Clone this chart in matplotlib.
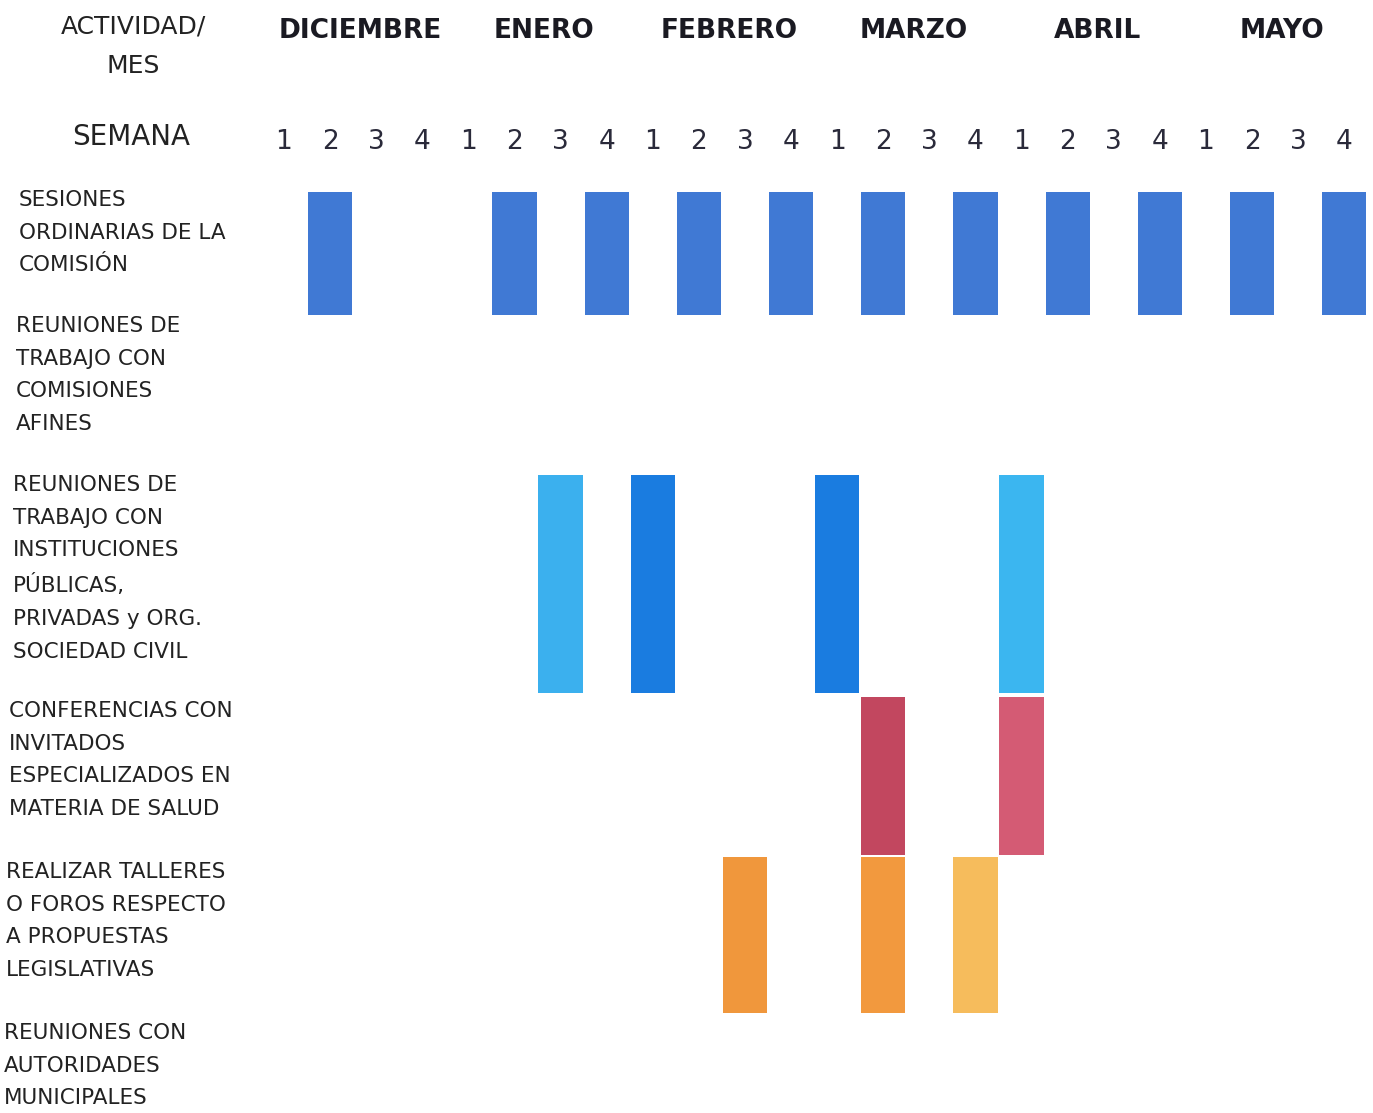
import matplotlib.pyplot as plt
from matplotlib.patches import Rectangle

meses = ['DICIEMBRE', 'ENERO', 'FEBRERO', 'MARZO', 'ABRIL', 'MAYO']
semanas = ['1', '2', '3', '4']

actividades = [
    'SESIONES\nORDINARIAS DE LA\nCOMISIÓN',
    'REUNIONES DE\nTRABAJO CON\nCOMISIONES\nAFINES',
    'REUNIONES DE\nTRABAJO CON\nINSTITUCIONES\nPÚBLICAS,\nPRIVADAS y ORG.\nSOCIEDAD CIVIL',
    'CONFERENCIAS CON\nINVITADOS\nESPECIALIZADOS EN\nMATERIA DE SALUD',
    'REALIZAR TALLERES\nO FOROS RESPECTO\nA PROPUESTAS\nLEGISLATIVAS',
    'REUNIONES CON\nAUTORIDADES\nMUNICIPALES',
]

# (month index, week number)
sesiones = [(0, 2), (1, 2), (1, 4), (2, 2), (2, 4), (3, 2), (3, 4), (4, 2), (4, 4), (5, 2), (5, 4)]
instituciones = [(1, 3), (2, 1), (3, 1), (4, 1)]
conferencias = [(3, 2), (4, 1)]
talleres = [(2, 3), (3, 2), (3, 4)]

# layout (pixels)
W, H = 1373, 1113
x0, step = 284, 46.1
row_top = [192, 318, 475, 697, 857, 1020]
row_bot = [315, 440, 693, 855, 1013, 1113]
label_x = [19, 16, 13, 9, 6, 4]
label_y = [202, 328, 487, 713, 874, 1035]

fig = plt.figure(figsize=(W / 100, H / 100), dpi=100)
ax = fig.add_axes([0, 0, 1, 1])
ax.set_xlim(-x0 / step, (W - x0) / step)
ax.set_ylim(H, 0)
ax.axis('off')

def week_idx(m, s):
    return m * 4 + (s - 1)

def draw(items, row, colors, w=0.96):
    for (m, s), c in zip(items, colors):
        i = week_idx(m, s)
        ax.add_patch(Rectangle((i - w / 2, row_top[row]), w, row_bot[row] - row_top[row],
                               facecolor=c, edgecolor='none'))

draw(sesiones, 0, ['#4079D4'] * len(sesiones))
draw(instituciones, 2, ['#3BB0EE', '#1A7CE0', '#1A7CE0', '#3BB6F0'])
draw(conferencias, 3, ['#C2475F', '#D45B74'])
draw(talleres, 4, ['#F0973C', '#F2993E', '#F6BC5C'])

txt = '#222222'
fig.text(133 / W, 1 - 27 / H, 'ACTIVIDAD/', ha='center', va='center', fontsize=18, color=txt)
fig.text(133 / W, 1 - 66 / H, 'MES', ha='center', va='center', fontsize=18, color=txt)
fig.text(131 / W, 1 - 137 / H, 'SEMANA', ha='center', va='center', fontsize=20, color=txt)

for m, mes in enumerate(meses):
    ax.text(m * 4 + 1.65, 31, mes, ha='center', va='center', fontsize=19,
            fontweight='bold', color='#1a1a22')
    for s in semanas:
        ax.text(week_idx(m, int(s)), 142, s, ha='center', va='center', fontsize=19,
                color='#2a2a3a')

for k, act in enumerate(actividades):
    fig.text(label_x[k] / W, 1 - (label_y[k] - 12) / H, act, ha='left', va='top',
             fontsize=15.5, color=txt, linespacing=1.79)

fig.savefig('out.png', dpi=100, facecolor='white')
